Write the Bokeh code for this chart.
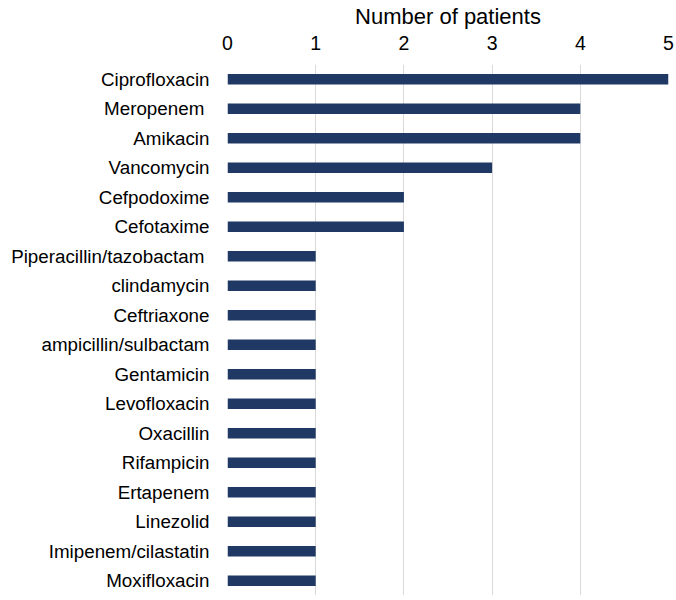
from bokeh.plotting import figure
from bokeh.models import FactorRange, Range1d, FixedTicker
from bokeh.embed import file_html
from bokeh.resources import INLINE

drugs = ["Ciprofloxacin", "Meropenem ", "Amikacin", "Vancomycin", "Cefpodoxime",
         "Cefotaxime", "Piperacillin/tazobactam ", "clindamycin", "Ceftriaxone",
         "ampicillin/sulbactam", "Gentamicin", "Levofloxacin", "Oxacillin",
         "Rifampicin", "Ertapenem", "Linezolid", "Imipenem/cilastatin", "Moxifloxacin"]
patients = [5, 4, 4, 3, 2, 2, 1, 1, 1, 1, 1, 1, 1, 1, 1, 1, 1, 1]
x_ticks = [0, 1, 2, 3, 4, 5]
x_title = "Number of patients"

FONT = "Liberation Sans"

p = figure(width=676, height=595, output_backend="svg", toolbar_location=None,
           y_range=FactorRange(factors=list(reversed(drugs))),
           x_range=Range1d(0, 5), x_axis_location="above",
           min_border_left=227, min_border_right=8, min_border_top=63,
           min_border_bottom=0)

p.hbar(y=drugs, right=patients, left=0, height=0.36, color="#1f3864", line_color=None)

p.outline_line_color = None
p.ygrid.grid_line_color = None
p.xgrid.grid_line_color = "#d9d9d9"
p.xgrid.ticker = FixedTicker(ticks=x_ticks)

xa = p.xaxis[0]
xa.ticker = FixedTicker(ticks=x_ticks)
xa.axis_line_color = None
xa.major_tick_line_color = None
xa.minor_tick_line_color = None
xa.major_tick_out = 0
xa.major_label_standoff = 15
xa.major_label_text_font = FONT
xa.major_label_text_font_size = "19.5px"
xa.major_label_text_color = "#000000"
xa.axis_label = x_title
xa.axis_label_standoff = 4
xa.axis_label_text_font = FONT
xa.axis_label_text_font_size = "22px"
xa.axis_label_text_font_style = "normal"
xa.axis_label_text_color = "#000000"

ya = p.yaxis[0]
ya.axis_line_color = None
ya.major_tick_line_color = None
ya.minor_tick_line_color = None
ya.major_tick_out = 0
ya.major_label_standoff = 18
ya.major_label_text_font = FONT
ya.major_label_text_font_size = "18.8px"
ya.major_label_text_color = "#000000"

open("out.html", "w").write(file_html(p, INLINE))
